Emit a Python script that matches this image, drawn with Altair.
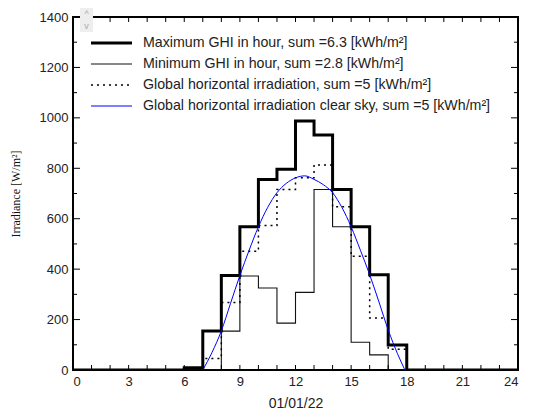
import altair as alt
import pandas as pd

# ---- data ----
hours = list(range(0, 25))  # step start hours (24 = closing point)
max_ghi = [0, 0, 0, 0, 0, 0, 9, 155, 375, 568, 756, 796, 988, 932, 716, 568, 378, 99, 0, 0, 0, 0, 0, 0, 0]
min_ghi = [0, 0, 0, 0, 0, 0, 0, 0, 154, 373, 325, 186, 308, 716, 568, 110, 60, 0, 0, 0, 0, 0, 0, 0, 0]
ghi = [0, 0, 0, 0, 0, 0, 0, 46, 268, 471, 573, 716, 762, 813, 647, 451, 206, 82, 0, 0, 0, 0, 0, 0, 0]

clear_hours = [7.0, 7.5, 8.0, 8.5, 9.0, 9.5, 10.0, 10.5, 11.0, 11.5, 12.0, 12.5, 13.0,
               13.5, 14.0, 14.5, 15.0, 15.5, 16.0, 16.5, 17.0, 17.5, 17.9]
clear_sky = [0, 70, 155, 265, 375, 475, 568, 645, 703, 740, 762, 770, 756,
             735, 703, 645, 568, 475, 378, 270, 159, 65, 0]

series_names = [
    "Maximum GHI in hour, sum =6.3 [kWh/m²]",
    "Minimum GHI in hour, sum =2.8 [kWh/m²]",
    "Global horizontal irradiation, sum =5 [kWh/m²]",
    "Global horizontal irradiation clear sky, sum =5 [kWh/m²]",
]
series_colors = ["#000000", "#111111", "#000000", "#0000ff"]
series_widths = [3, 1.1, 1.5, 1]
series_dashes = [[1, 0], [1, 0], [2, 4], [1, 0]]

x_label_values = [0, 3, 6, 9, 12, 15, 18, 21, 24]
y_label_values = [0, 200, 400, 600, 800, 1000, 1200, 1400]
x_tick_values = list(range(0, 25))
y_tick_values = list(range(0, 1401, 100))

W, H = 445, 353
FONT = "Liberation Sans"

xscale = alt.Scale(domain=[0, 24], nice=False)
yscale = alt.Scale(domain=[0, 1400], nice=False)

xaxis = alt.Axis(values=x_label_values, ticks=False, domain=False, grid=False,
                 labelPadding=5, title="01/01/22", titleFontWeight="normal",
                 titleFontSize=14, titleFont=FONT, titlePadding=8, format="d",
                 labelFont=FONT, labelFontSize=13, labelColor="#222",
                 titleColor="#222")
yaxis = alt.Axis(values=y_label_values, ticks=False, domain=False, grid=False,
                 labelPadding=5, title="Irradiance [W/m²]", titleFont="Liberation Serif",
                 titleFontWeight="normal", titleFontSize=12, titlePadding=17, format="d",
                 labelFont=FONT, labelFontSize=13, labelColor="#222",
                 titleColor="#111")

X = alt.X("hour:Q", scale=xscale, axis=xaxis)
Y = alt.Y("value:Q", scale=yscale, axis=yaxis)

step_df = pd.concat([
    pd.DataFrame({"hour": hours, "value": max_ghi, "series": series_names[0]}),
    pd.DataFrame({"hour": hours, "value": min_ghi, "series": series_names[1]}),
    pd.DataFrame({"hour": hours, "value": ghi, "series": series_names[2]}),
])
clear_df = pd.DataFrame({"hour": clear_hours, "value": clear_sky})


def step_layer(i):
    d = step_df[step_df.series == series_names[i]]
    return alt.Chart(d).mark_line(
        interpolate="step-after", color=series_colors[i],
        strokeWidth=series_widths[i], strokeDash=series_dashes[i], clip=True,
    ).encode(x=X, y=Y)


layers = [step_layer(0), step_layer(1), step_layer(2)]

layers.append(alt.Chart(clear_df).mark_line(
    interpolate="monotone", color=series_colors[3], strokeWidth=series_widths[3]
).encode(x=X, y=Y))

# inward tick marks on all four sides
xt = pd.DataFrame({"hour": x_tick_values})
yt = pd.DataFrame({"value": y_tick_values,
                   "major": [v % 200 == 0 for v in y_tick_values]})
for y0, y1 in [(H, H - 5), (0, 5)]:
    layers.append(alt.Chart(xt).mark_rule(color="#000", strokeWidth=1).encode(
        x=X, y=alt.value(y0), y2=alt.value(y1)))
for x0, sgn in [(0, 1), (W, -1)]:
    layers.append(alt.Chart(yt[yt.major]).mark_rule(color="#000", strokeWidth=1).encode(
        y=Y, x=alt.value(x0), x2=alt.value(x0 + sgn * 7)))
    layers.append(alt.Chart(yt[~yt.major]).mark_rule(color="#000", strokeWidth=1).encode(
        y=Y, x=alt.value(x0), x2=alt.value(x0 + sgn * 4)))

# legend (manual, inside the plot)
leg_df = pd.DataFrame({"label": series_names})
for i, name in enumerate(series_names):
    ypix = 26 + 21 * i
    row = leg_df.iloc[[i]]
    layers.append(alt.Chart(row).mark_rule(
        color=series_colors[i], strokeWidth=series_widths[i], strokeDash=series_dashes[i]
    ).encode(x=alt.value(18), x2=alt.value(59), y=alt.value(ypix)))
    layers.append(alt.Chart(row).mark_text(
        align="left", baseline="middle", font=FONT, fontSize=14.2, color="#222"
    ).encode(x=alt.value(70), y=alt.value(ypix), text="label:N"))

# small scroll widget at top left
widget = pd.DataFrame({"t": ["^", "v"]})
layers.append(alt.Chart(widget.iloc[[0]]).mark_rect(color="#eeeeee").encode(
    x=alt.value(7), x2=alt.value(20), y=alt.value(-9), y2=alt.value(15)))
layers.append(alt.Chart(widget.iloc[[0]]).mark_text(color="#aaaaaa", fontSize=9, font=FONT).encode(
    x=alt.value(13.5), y=alt.value(-3), text="t:N"))
layers.append(alt.Chart(widget.iloc[[1]]).mark_text(color="#aaaaaa", fontSize=9, font=FONT).encode(
    x=alt.value(13.5), y=alt.value(9), text="t:N"))

chart = alt.layer(*layers).properties(
    width=W, height=H,
    background="white",
    autosize=alt.AutoSizeParams(type="none"),
    padding={"left": 65, "top": 9, "right": 8, "bottom": 44},
).configure_view(stroke="#000", strokeWidth=2)

chart.save("out.html", embed_options={"renderer": "svg", "actions": False})
